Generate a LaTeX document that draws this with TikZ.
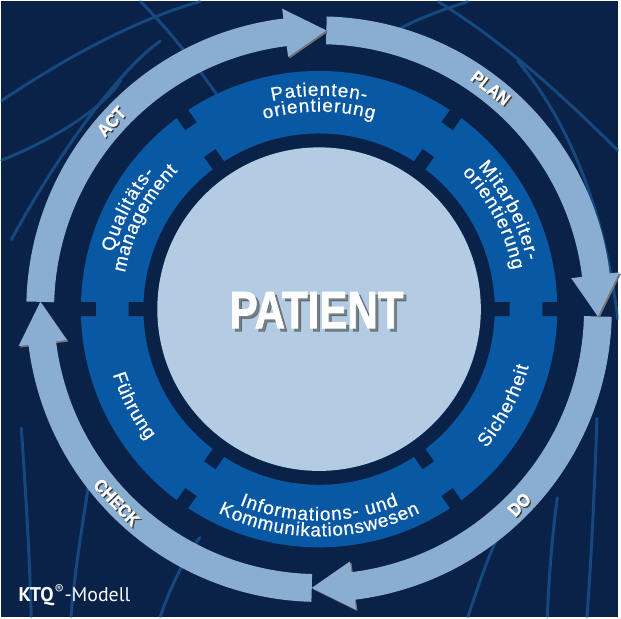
\documentclass[tikz,border=0pt]{standalone}
\usepackage{fontspec}
\setmainfont{Liberation Sans}
\newfontfamily\ktqfont{PT Sans}
\newfontfamily\heavy[FakeBold=1.6]{Liberation Sans Bold}
\newfontfamily\ringfont[FakeBold=0.6]{Liberation Sans}
\usetikzlibrary{decorations.text}
\definecolor{navy}{RGB}{10,33,72}
\definecolor{streak}{RGB}{30,112,180}
\definecolor{ringblue}{RGB}{8,88,164}
\definecolor{core}{RGB}{179,204,227}
\definecolor{cyc}{RGB}{138,174,210}
\newcommand\ringtxt{\color{white}\ringfont\fontsize{19}{19}\selectfont}
\begin{document}
\begin{tikzpicture}[x=1pt, y=1pt,
  streaks/.style={streak, line width=3, opacity=.5, line cap=round},
  lbl/.style={font=\heavy\fontsize{18}{18}\selectfont, inner sep=0},
  big/.style={font=\heavy\fontsize{53}{53}\selectfont, inner sep=0},
  declare function={ri=177; ro=240; ai=267; ao=295; am=281;}]
\fill[navy] (-320,-310) rectangle (301,310);
\draw[streaks] (-320,210) .. controls (-260,250) and (-190,290) .. (-120,310)
  (-310,70) .. controls (-250,180) and (-190,250) .. (-160,270)
  (-180,310) .. controls (-130,260) and (-100,210) .. (-70,170)
  (-320,150) .. controls (-270,170) and (-220,200) .. (-200,230)
  (120,310) .. controls (200,260) and (260,200) .. (301,160)
  (200,250) .. controls (260,180) and (290,80) .. (301,-10)
  (60,270) .. controls (90,290) and (120,300) .. (150,310)
  (-250,-310) .. controls (-245,-250) and (-235,-200) .. (-230,-160)
  (-290,-310) .. controls (-292,-240) and (-296,-180) .. (-300,-120)
  (-160,-310) .. controls (-150,-280) and (-135,-250) .. (-120,-230)
  (150,-310) .. controls (160,-280) and (170,-250) .. (180,-230)
  (230,-310) .. controls (232,-260) and (236,-220) .. (240,-190)
  (270,-310) .. controls (275,-240) and (278,-170) .. (280,-110);
\fill[core] (0,0) circle[radius=163];
\fill[ringblue, even odd rule] (0,0) circle[radius=ro] (0,0) circle[radius=ri];
\foreach \b in {0,55,125,180,235,305}
  \fill[navy, rotate=\b] ({ro-15},-7) rectangle ({ro+1},7) ({ri-1},-7) rectangle ({ri+15},7);
\foreach \a/\r/\da/\t in {102.73/215/-25.45/Patienten-, 106.10/199/-32.19/orientierung,
  41.89/215/-28.78/Mitarbeiter-, 43.60/199/-32.19/orientierung,
  164.59/215/-24.17/Qualitäts-, 169.37/199/-33.74/management,
  320.25/219/24.49/Sicherheit, 197.6/218/19.79/Führung,
  247.9/213/44.2/Informations- und, 243.63/229/52.74/Kommunikationswesen}
  \path[decorate, decoration={text along path, text/.expanded={|\noexpand\ringtxt|\t}, text align={fit to path}}]
    (\a:\r) arc[start angle=\a, delta angle=\da, radius=\r];
\foreach \t in {0,90,180,270}{
  \fill[black!55] ([xshift=1.5,yshift=-1.5]{\t-83}:ao+10) -- ([xshift=1.5,yshift=-1.5]{\t-91.5}:am)
    -- ([xshift=1.5,yshift=-1.5]{\t-83}:ai-11) -- cycle;
  \fill[cyc] ({\t-1.5}:ao) arc[start angle=\t-1.5, end angle=\t-83, radius=ao] -- ({\t-83}:ao+10)
    -- ({\t-91.5}:am) -- ({\t-83}:ai-11) -- ({\t-83}:ai) arc[start angle=\t-83, end angle=\t-1.5, radius=ai] -- cycle;
}
\foreach \a/\t/\o in {137.9/ACT/47.9, 52.2/PLAN/-37.8, -44.3/DO/45.7, 223.7/CHECK/-46.3}{
  \node[lbl, text=black!75, rotate=\o] at ([xshift=1.3,yshift=-1.3]\a:am+1) {\scalebox{0.9}[1]{\t}};
  \node[lbl, text=white, rotate=\o] (\t) at (\a:am+1) {\scalebox{0.9}[1]{\t}};
}
\node[big, text=black!70, opacity=.6] at (0.5,-4) {\scalebox{0.8}[1]{PATIENT}};
\node[big, text=white] (pat) at (-2.5,-1) {\scalebox{0.8}[1]{PATIENT}};
\node[anchor=base west, inner sep=0, text=white!95!cyc, font=\ktqfont\fontsize{20}{20}\selectfont] (ktq)
  at (-303,-295) {\textbf{KTQ}\textsuperscript{®}-Modell};
\end{tikzpicture}
\end{document}
